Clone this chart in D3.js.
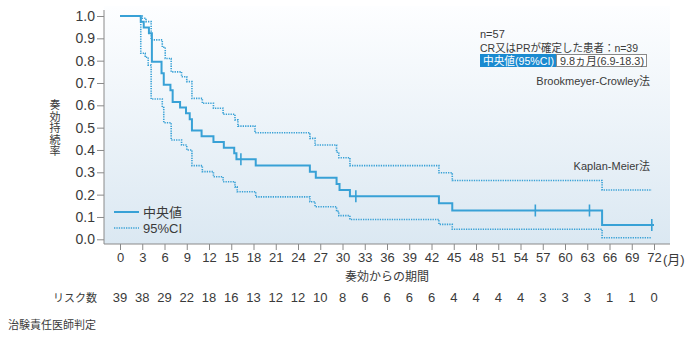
<!DOCTYPE html>
<html><head><meta charset="utf-8">
<script src="https://cdn.jsdelivr.net/npm/d3@7"></script>
<style>
body{margin:0;background:#fff;}
svg text{font-family:"Liberation Sans","Noto Sans CJK JP",sans-serif;fill:#3a3a3a;}
</style></head>
<body><svg id="c" width="700" height="340"></svg>
<script>
// ---- data ----
const xTicks = [0,3,6,9,12,15,18,21,24,27,30,33,36,39,42,45,48,51,54,57,60,63,66,69,72];
const yTicks = [0,0.1,0.2,0.3,0.4,0.5,0.6,0.7,0.8,0.9,1.0];
const riskCounts = [39,38,29,22,18,16,13,12,12,10,8,6,6,6,6,4,4,4,4,3,3,3,1,1,0];
// Kaplan-Meier step change points [month, survival]
const kmTimes  = [0,2.8,3.2,3.9,4.3,5.6,5.9,6.8,7.1,8.1,8.9,9.4,9.7,11.0,12.6,14.0,15.4,15.7,18.3,25.6,26.4,29.2,29.6,31.0,43.0,44.8,65.0,72.0];
const kmValues = [1.0,0.974,0.949,0.923,0.795,0.744,0.692,0.667,0.615,0.590,0.564,0.538,0.487,0.462,0.436,0.410,0.385,0.359,0.331,0.303,0.276,0.248,0.221,0.193,0.161,0.129,0.064,0.064];
const upTimes  = [0,3.0,3.5,4.2,5.7,6.1,6.9,8.3,9.0,9.7,11.1,12.6,13.9,15.5,15.9,18.2,25.6,26.3,29.2,29.5,31.0,43.0,44.8,65.0,71.7];
const upValues = [1.0,0.99,0.975,0.893,0.86,0.81,0.75,0.728,0.706,0.631,0.609,0.587,0.56,0.535,0.507,0.477,0.452,0.422,0.39,0.365,0.33,0.298,0.263,0.221,0.221];
const loTimes  = [0,2.8,3.4,3.8,4.2,5.7,5.9,6.9,8.3,9.0,9.7,11.1,12.6,13.9,15.5,15.8,18.3,25.6,26.3,29.2,29.5,31.0,43.0,44.8,65.0,71.7];
const loValues = [1.0,0.833,0.815,0.78,0.628,0.59,0.522,0.445,0.422,0.40,0.33,0.303,0.28,0.258,0.235,0.213,0.19,0.168,0.146,0.125,0.106,0.089,0.067,0.045,0.007,0.007];
const censorTimes  = [16.3,31.8,56.0,63.3,71.7];
const censorValues = [0.359,0.193,0.129,0.129,0.064];

const blue = "#38a1d6";
const svg = d3.select("#c");
const x = d3.scaleLinear().domain([0,72]).range([120,654]);
const y = d3.scaleLinear().domain([0,1]).range([239.3,16]);

// background gradient
const defs = svg.append("defs");
const g = defs.append("linearGradient").attr("id","bg").attr("x1",0).attr("y1",0).attr("x2",0).attr("y2",1);
g.append("stop").attr("offset","0%").attr("stop-color","#fdfeff");
g.append("stop").attr("offset","100%").attr("stop-color","#dbe8f2");
svg.append("rect").attr("x",104).attr("y",6).attr("width",566).attr("height",238).attr("fill","url(#bg)");

// axes
const axisColor = "#8a8a8a";
const yAxis = svg.append("g").attr("transform","translate(104,0)")
  .call(d3.axisLeft(y).tickValues(yTicks).tickFormat(d3.format(".1f")).tickSize(7).tickPadding(2));
yAxis.select(".domain").remove();
yAxis.selectAll("line").attr("stroke",axisColor);
yAxis.selectAll("text").attr("font-size",14).style("font-family","Liberation Sans").attr("fill","#3a3a3a");
svg.append("line").attr("x1",104).attr("x2",104).attr("y1",10).attr("y2",244).attr("stroke",axisColor);

const xAxis = svg.append("g").attr("transform","translate(0,244)")
  .call(d3.axisBottom(x).tickValues(xTicks).tickFormat(d3.format("d")).tickSize(6).tickPadding(3));
xAxis.select(".domain").remove();
xAxis.selectAll("line").attr("stroke",axisColor);
xAxis.selectAll("text").attr("font-size",13).attr("fill","#3a3a3a");
svg.append("line").attr("x1",104).attr("x2",670).attr("y1",244).attr("y2",244).attr("stroke",axisColor);
svg.append("text").attr("x",x(72)+9).attr("y",264).attr("font-size",13).text("(月)");

// axis titles
svg.append("text").attr("x",x(36)).attr("y",281).attr("text-anchor","middle").attr("font-size",12).text("奏効からの期間");
const ylab = "奏効持続率".split("");
svg.selectAll(".ylab").data(ylab).join("text").attr("class","ylab")
  .attr("x",55).attr("y",(d,i)=>109+i*11.5).attr("text-anchor","middle").attr("font-size",11).text(d=>d);

// risk table
svg.append("text").attr("x",97).attr("y",302).attr("text-anchor","end").attr("font-size",11).text("リスク数");
svg.selectAll(".risk").data(riskCounts).join("text").attr("class","risk")
  .attr("x",(d,i)=>x(xTicks[i])).attr("y",302).attr("text-anchor","middle").attr("font-size",13).text(d=>d);
svg.append("text").attr("x",8).attr("y",329).attr("font-size",11).text("治験責任医師判定");

// curves
const line = d3.line().x(d=>x(d[0])).y(d=>y(d[1])).curve(d3.curveStepAfter);
const up = upTimes.map((t,i)=>[t,upValues[i]]);
const lo = loTimes.map((t,i)=>[t,loValues[i]]);
const km = kmTimes.map((t,i)=>[t,kmValues[i]]);
[up,lo].forEach(s=>svg.append("path").attr("d",line(s)).attr("fill","none")
  .attr("stroke",blue).attr("stroke-width",1.6).attr("stroke-dasharray","1.3,1.1"));
svg.append("path").attr("d",line(km)).attr("fill","none").attr("stroke",blue).attr("stroke-width",2);
svg.selectAll(".cens").data(censorTimes).join("line").attr("class","cens")
  .attr("x1",d=>x(d)).attr("x2",d=>x(d))
  .attr("y1",(d,i)=>y(censorValues[i])-6).attr("y2",(d,i)=>y(censorValues[i])+6)
  .attr("stroke",blue).attr("stroke-width",1.6);

// legend
svg.append("line").attr("x1",114).attr("x2",139).attr("y1",212).attr("y2",212).attr("stroke",blue).attr("stroke-width",2);
svg.append("line").attr("x1",114).attr("x2",139).attr("y1",228).attr("y2",228).attr("stroke",blue).attr("stroke-width",1.6).attr("stroke-dasharray","1.3,1.1");
svg.append("text").attr("x",143).attr("y",217).attr("font-size",13).text("中央値");
svg.append("text").attr("x",143).attr("y",233).attr("font-size",13).text("95%CI");

// annotations
svg.append("text").attr("x",480).attr("y",38).attr("font-size",11).text("n=57");
svg.append("text").attr("x",480).attr("y",52).attr("font-size",11).attr("textLength",158).attr("lengthAdjust","spacingAndGlyphs").text("CR又はPRが確定した患者：n=39");
svg.append("rect").attr("x",480.5).attr("y",54.5).attr("width",76).attr("height",12).attr("fill","#1a8ad0").attr("stroke","#1a8ad0");
svg.append("rect").attr("x",556.5).attr("y",54.5).attr("width",90).attr("height",12).attr("fill","#fff").attr("stroke","#8a8a8a");
svg.append("text").attr("x",483).attr("y",64.5).attr("font-size",11).attr("textLength",71).attr("lengthAdjust","spacingAndGlyphs").style("fill","#fff").text("中央値(95%CI)");
svg.append("text").attr("x",560).attr("y",64.5).attr("font-size",11).attr("textLength",84).attr("lengthAdjust","spacingAndGlyphs").text("9.8ヵ月(6.9-18.3)");
svg.append("text").attr("x",650).attr("y",85).attr("text-anchor","end").attr("font-size",11).text("Brookmeyer-Crowley法");
svg.append("text").attr("x",650).attr("y",170).attr("text-anchor","end").attr("font-size",11).text("Kaplan-Meier法");
</script></body></html>
